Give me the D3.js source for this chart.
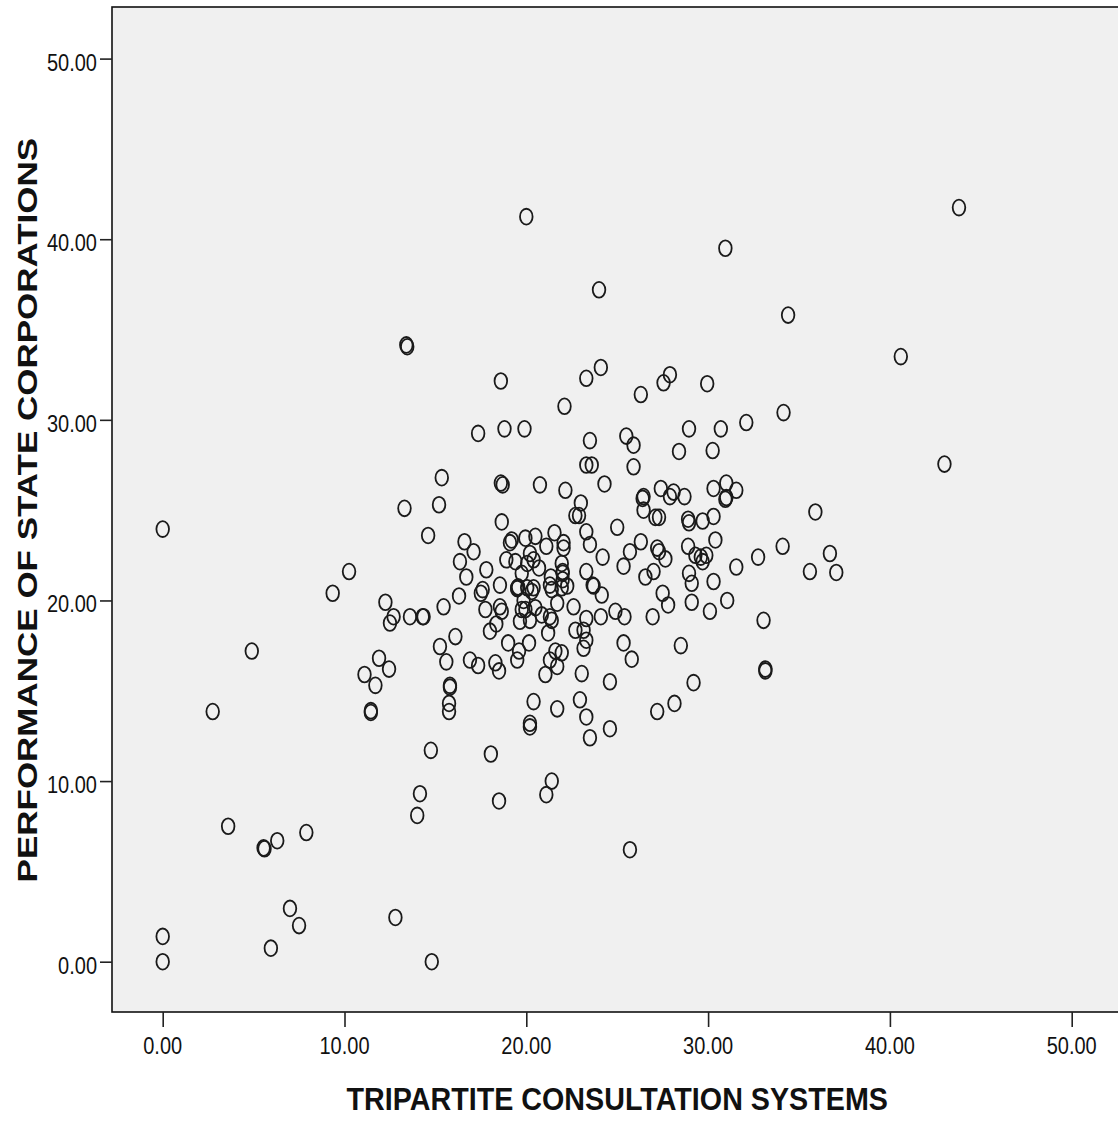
<!DOCTYPE html>
<html>
<head>
<meta charset="utf-8">
<script src="https://cdn.jsdelivr.net/npm/d3@7/dist/d3.min.js"></script>
<style>
  html, body { margin: 0; padding: 0; background: #fff; }
  svg { display: block; }
  text { font-family: "Liberation Sans", Arial, sans-serif; fill: #111; }
</style>
</head>
<body>
<svg id="chart" width="1118" height="1121"></svg>
<script>
// Tripartite consultation score (x) and performance score (y) per respondent
const tripartite = [
  13.4, 13.45, 20.0, 30.95, 24.0, 34.4, 24.1, 23.3, 18.6, 26.3, 27.9, 27.55, 29.95, 22.1, 34.15, 32.1,
  30.7, 28.95, 17.35, 18.8, 19.9, 23.5, 25.5, 25.9, 28.4, 30.25, 23.3, 23.6, 25.9, 43.8, 40.6, 43.0, 15.35,
  18.6, 18.7, 20.75, 22.15, 24.3, 26.4, 26.45, 26.45, 27.4, 27.9, 28.1, 28.7, 30.3, 31.0, 31.55, 30.95, 31.0,
  18.65, 23.0, 22.7, 22.9, 23.3, 23.5, 25.0, 27.1, 27.3, 28.9, 28.95, 29.7, 30.3, 30.4, 26.3, 25.7, 25.35,
  27.2, 27.3, 27.65, 27.0, 26.55, 28.9, 29.3, 29.6, 29.9, 29.7, 28.95, 29.1, 30.3, 31.55, 32.75, 34.1,
  33.05, 33.15, 33.15, 31.05, 30.1, 29.1, 27.8, 27.5, 26.95, 28.5, 29.2, 28.15, 27.2, 25.8, 25.35, 25.4,
  24.9, 24.1, 24.6, 24.15, 23.65, 23.7, 23.3, 24.2, 23.3, 22.7, 23.15, 23.3, 23.15, 23.05, 22.95, 23.3,
  24.6, 21.7, 20.4, 20.2, 20.2, 21.05, 21.3, 21.6, 21.95, 21.7, 21.2, 20.15, 19.6, 19.5, 19.0, 18.3, 18.5,
  16.9, 17.35, 16.1, 18.0, 18.35, 18.55, 18.65, 17.75, 17.5, 17.6, 16.3, 18.55, 17.8, 16.7, 16.35, 17.1, 16.6,
  19.2, 19.1, 19.95, 20.5, 21.55, 22.05, 21.1, 18.9, 19.4, 20.2, 20.4, 20.05, 20.7, 19.75, 21.95, 22.0,
  22.0, 22.0, 21.35, 19.5, 19.55, 19.5, 20.05, 20.4, 20.3, 21.3, 21.4, 21.95, 22.25, 19.85, 19.95, 19.75,
  20.5, 20.85, 21.3, 21.4, 21.7, 22.6, 19.65, 20.2, 22.05,
  35.9, 36.7, 35.6, 37.05,
  15.2, 13.3, 14.6, 0.0, 10.25, 9.35, 12.25, 12.7, 12.5, 13.6, 14.3, 14.35, 15.45, 15.25, 15.6, 15.8, 15.8,
  15.75, 15.75, 4.9, 2.75, 11.9, 12.45, 11.1, 11.7, 11.45, 11.45,
  14.75, 14.15, 14.0, 3.6, 5.55, 5.6, 6.3, 7.9, 7.0, 7.5, 5.95, 12.8, 0.0, 0.0, 14.8,
  23.5, 18.05, 21.4, 21.1, 18.5, 25.7
];
const performance = [
  34.15, 34.05, 41.25, 39.5, 37.2, 35.8, 32.9, 32.3, 32.15, 31.4, 32.5, 32.05, 32.0, 30.75, 30.4, 29.85,
  29.5, 29.5, 29.25, 29.5, 29.5, 28.85, 29.1, 28.6, 28.25, 28.3, 27.5, 27.5, 27.4, 41.75, 33.5, 27.55, 26.8,
  26.5, 26.4, 26.4, 26.1, 26.45, 25.65, 25.75, 25.0, 26.2, 25.75, 26.0, 25.75, 26.2, 26.5, 26.1, 25.6, 25.7,
  24.35, 25.4, 24.7, 24.7, 23.8, 23.1, 24.05, 24.6, 24.6, 24.5, 24.3, 24.4, 24.65, 23.35, 23.25, 22.7, 21.9,
  22.9, 22.7, 22.3, 21.6, 21.3, 23.0, 22.5, 22.4, 22.5, 22.15, 21.5, 20.95, 21.05, 21.85, 22.4, 23.0,
  18.9, 16.2, 16.1, 20.0, 19.4, 19.9, 19.75, 20.4, 19.1, 17.5, 15.45, 14.3, 13.85, 16.75, 17.65, 19.1,
  19.4, 19.1, 15.5, 20.3, 20.85, 20.8, 21.6, 22.4, 19.0, 18.35, 18.35, 17.8, 17.35, 15.95, 14.5, 13.55,
  12.9, 14.0, 14.4, 13.2, 13.0, 15.9, 16.7, 17.2, 17.1, 16.35, 18.2, 17.65, 17.2, 16.7, 17.65, 16.55, 16.1,
  16.7, 16.4, 18.0, 18.3, 18.7, 19.65, 19.4, 19.5, 20.4, 20.6, 20.25, 20.85, 21.7, 21.3, 22.15, 22.7, 23.25,
  23.35, 23.2, 23.45, 23.55, 23.75, 23.2, 23.0, 22.25, 22.15, 22.6, 22.25, 22.05, 21.8, 21.5, 22.05, 21.6,
  21.5, 21.15, 21.3, 20.7, 20.75, 20.65, 20.7, 20.7, 20.5, 20.85, 20.6, 20.7, 20.8, 20.0, 19.5, 19.5,
  19.6, 19.2, 19.1, 18.9, 19.85, 19.65, 18.85, 18.9, 22.9,
  24.9, 22.6, 21.6, 21.55,
  25.3, 25.1, 23.6, 23.95, 21.6, 20.4, 19.9, 19.1, 18.75, 19.1, 19.1, 19.1, 19.65, 17.45, 16.6, 15.3, 15.2,
  14.3, 13.85, 17.2, 13.85, 16.8, 16.2, 15.9, 15.3, 13.9, 13.8,
  11.7, 9.3, 8.1, 7.5, 6.3, 6.25, 6.7, 7.15, 2.95, 2.0, 0.75, 2.45, 1.4, 0.0, 0.0,
  12.4, 11.5, 10.0, 9.25, 8.9, 6.2
];
const xTicks = [0, 10, 20, 30, 40, 50];
const yTicks = [0, 10, 20, 30, 40, 50];
const xTitle = "TRIPARTITE CONSULTATION SYSTEMS";
const yTitle = "PERFORMANCE OF STATE CORPORATIONS";

const points = tripartite.map((v, i) => ({ x: v, y: performance[i] }));

const svg = d3.select("#chart");
const frame = { left: 112, top: 7, right: 1130, bottom: 1012 };
const stretch = 1.24; // vertical aspect of the rendered glyphs and markers

const x = d3.scaleLinear().domain([0, 50]).range([162.7, 1071.7]);
const y = d3.scaleLinear().domain([0, 50]).range([961.7, 58.6]);
const fmt = d3.format(".2f");

// plot panel
svg.append("rect")
  .attr("x", frame.left).attr("y", frame.top)
  .attr("width", frame.right - frame.left).attr("height", frame.bottom - frame.top)
  .attr("fill", "#f0f0f0").attr("stroke", "#111").attr("stroke-width", 1.6);

// y axis
const yAxis = svg.append("g").attr("transform", `translate(${frame.left},0)`)
  .call(d3.axisLeft(y).tickValues(yTicks).tickSize(12).tickFormat(""));
yAxis.select(".domain").remove();
yAxis.selectAll(".tick line").attr("stroke", "#222").attr("stroke-width", 1.6);
svg.append("g").selectAll("text").data(yTicks).join("text")
  .attr("transform", d => `translate(97,${y(d) + 12}) scale(1,${stretch})`)
  .attr("text-anchor", "end").attr("font-size", 20)
  .text(fmt);

// x axis
const xAxis = svg.append("g").attr("transform", `translate(0,${frame.bottom})`)
  .call(d3.axisBottom(x).tickValues(xTicks).tickSize(15).tickFormat(""));
xAxis.select(".domain").remove();
xAxis.selectAll(".tick line").attr("stroke", "#222").attr("stroke-width", 1.6);
svg.append("g").selectAll("text").data(xTicks).join("text")
  .attr("transform", d => `translate(${x(d)},1054) scale(1,${stretch})`)
  .attr("text-anchor", "middle").attr("font-size", 20)
  .text(fmt);

// axis titles
svg.append("text")
  .attr("transform", `translate(${(x(0) + x(50)) / 2},1110) scale(1,1.12)`)
  .attr("text-anchor", "middle").attr("font-size", 28.7).attr("font-weight", "bold")
  .text(xTitle);
svg.append("text")
  .attr("transform", `translate(37,${(y(0) + y(50)) / 2}) scale(1,1.25) rotate(-90)`)
  .attr("text-anchor", "middle").attr("font-size", 28).attr("font-weight", "bold")
  .text(yTitle);

// markers
svg.append("g").selectAll("ellipse").data(points).join("ellipse")
  .attr("cx", d => x(d.x)).attr("cy", d => y(d.y))
  .attr("rx", 6.3).attr("ry", 7.9)
  .attr("fill", "none").attr("stroke", "#1a1a1a").attr("stroke-width", 1.8);
</script>
</body>
</html>
